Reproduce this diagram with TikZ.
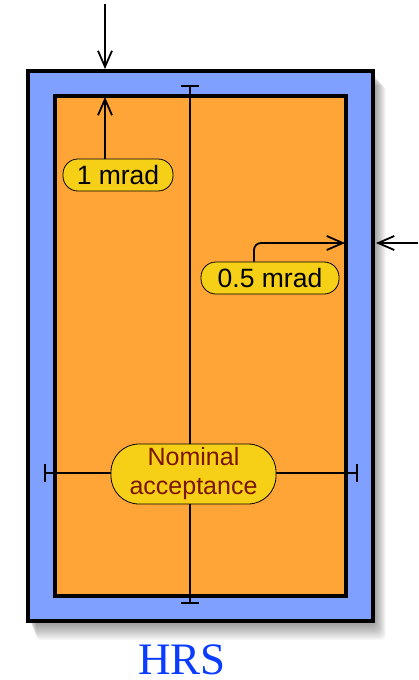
\documentclass[tikz,border=0pt]{standalone}
\usepackage{fontspec}
\setmainfont{Liberation Sans}
\newfontfamily\serifhrs{Liberation Serif}
\usetikzlibrary{arrows.meta,calc}
\definecolor{frameblue}{HTML}{80A0FF}
\definecolor{accorange}{HTML}{FFA537}
\definecolor{lblyellow}{HTML}{F6CF17}
\definecolor{lbltext}{HTML}{7A1500}
\definecolor{hrsblue}{HTML}{0A3CFF}
\tikzset{
  lbl/.style={draw=black, line width=0.8pt, fill=lblyellow, rounded corners=15pt, inner sep=0pt, font=\fontsize{26.5}{30}\selectfont},
  ptr/.style={line width=1.8pt, -{Straight Barb[length=16pt,width=14pt,line width=1.8pt]}},
  dimline/.style={line width=1.8pt, {Bar[width=18pt,line width=1.8pt]}-{Bar[width=18pt,line width=1.8pt]}},
}
\begin{document}
\begin{tikzpicture}[x=1pt,y=-1pt]
\useasboundingbox (0,0) rectangle (418,680);
% soft shadow
\foreach \i in {1,...,16}{
  \fill[black, opacity=0.03, rounded corners=6pt] (28+\i*0.5,71+\i*0.9) rectangle (373+\i*0.8,621+\i*1.2);
}
\coordinate (otl) at (28,71); \coordinate (obr) at (373,621);
\coordinate (itl) at (55,96); \coordinate (ibr) at (346,596);
\draw[line width=4pt, fill=frameblue] (otl) rectangle (obr);
\draw[line width=4pt, fill=accorange] (itl) rectangle (ibr);
% dimension lines
\coordinate (vt) at (190,85); \coordinate (vb) at (190,604);
\coordinate (hl) at (44,473); \coordinate (hr) at (358,473);
\draw[dimline] (vt) -- (vb);
\draw[dimline] (hl) -- (hr);
% Nominal acceptance
\node[lbl, minimum width=165pt, minimum height=60pt, rounded corners=28pt, text=lbltext, align=center, font=\fontsize{25}{29}\selectfont] (nom) at (193.5,474) {Nominal\\acceptance};
% 1 mrad
\node[lbl, minimum width=110pt, minimum height=32pt] (one) at (118,175) {1 mrad};
\coordinate (onetip) at (105,97);
\draw[ptr] (one.north -| onetip) -- (onetip);
\coordinate (topstart) at (105,4); \coordinate (toptip) at (105,69);
\draw[ptr] (topstart) -- (toptip);
% 0.5 mrad
\node[lbl, minimum width=138pt, minimum height=32pt] (half) at (270,278) {0.5 mrad};
\coordinate (halftip) at (345,243);
\draw[line width=1.8pt, rounded corners=7pt, -{Straight Barb[length=16pt,width=14pt,line width=1.8pt]}] (half.north -| 254,0) -- (254,243) -- (halftip);
\coordinate (rstart) at (418,243); \coordinate (rtip) at (376,243);
\draw[ptr] (rstart) -- (rtip);
% HRS
\node[text=hrsblue, font=\serifhrs\fontsize{45}{50}\selectfont, inner sep=0pt, anchor=base] (hrs) at (182,674) {HRS};
\end{tikzpicture}
\end{document}
